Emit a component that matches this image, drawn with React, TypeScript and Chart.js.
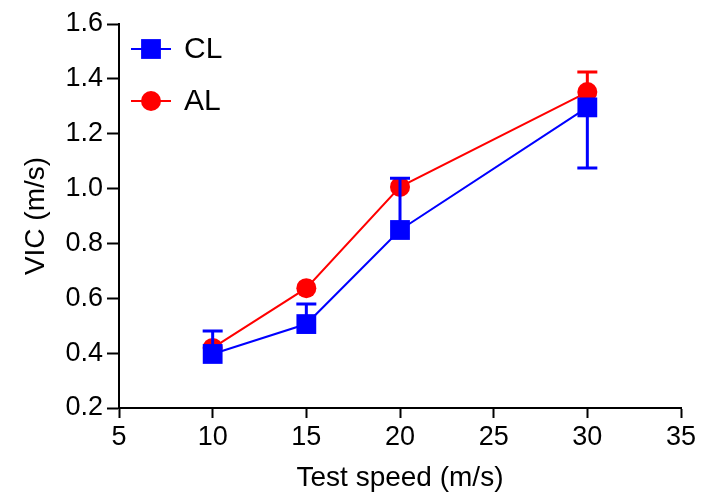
import React, { useEffect, useRef } from "react";
import { Chart, registerables } from "chart.js";

Chart.register(...registerables);

const speeds = [10, 15, 20, 30];
const clValues = [0.397, 0.506, 0.849, 1.296];
const clErrors = [0.084, 0.073, 0.189, -0.221];
const alValues = [0.419, 0.637, 1.006, 1.352];
const alErrors = [0, 0, 0, 0.073];
const seriesNames = ["CL", "AL"];
const xTitle = "Test speed (m/s)";
const yTitle = "VIC (m/s)";

const FONT = "'Liberation Sans', Arial, sans-serif";

const errorBarPlugin = {
  id: "errorBars",
  afterDatasetsDraw(chart: any) {
    const { ctx } = chart;
    const yScale = chart.scales.y;
    for (let i = chart.data.datasets.length - 1; i >= 0; i--) {
      const ds: any = chart.data.datasets[i];
      const errs: number[] = ds.errors || [];
      const meta = chart.getDatasetMeta(i);
      ctx.save();
      ctx.strokeStyle = ds.borderColor;
      ctx.lineWidth = 3;
      meta.data.forEach((pt: any, j: number) => {
        const e = errs[j];
        if (!e) return;
        const v = (ds.data[j] as any).y;
        const x = pt.x;
        const y0 = yScale.getPixelForValue(v);
        const y1 = yScale.getPixelForValue(v + e);
        ctx.beginPath();
        ctx.moveTo(x, y0);
        ctx.lineTo(x, y1);
        ctx.moveTo(x - 10, y1);
        ctx.lineTo(x + 10, y1);
        ctx.stroke();
      });
      ctx.restore();
    }
  },
};

const legendPlugin = {
  id: "customLegend",
  afterDraw(chart: any) {
    const { ctx, chartArea } = chart;
    const x0 = chartArea.left + 12;
    const x1 = chartArea.left + 52;
    const xm = (x0 + x1) / 2;
    const rows = [chartArea.top + 25, chartArea.top + 77];
    chart.data.datasets.forEach((ds: any, i: number) => {
      const y = rows[i];
      ctx.save();
      ctx.strokeStyle = ds.borderColor;
      ctx.lineWidth = 2;
      ctx.beginPath();
      ctx.moveTo(x0, y);
      ctx.lineTo(x1, y);
      ctx.stroke();
      ctx.fillStyle = ds.backgroundColor;
      if (ds.pointStyle === "rect") {
        const s = Math.SQRT1_2 * ds.pointRadius;
        ctx.fillRect(xm - s, y - s, 2 * s, 2 * s);
      } else {
        ctx.beginPath();
        ctx.arc(xm, y, ds.pointRadius, 0, Math.PI * 2);
        ctx.fill();
      }
      ctx.fillStyle = "#000";
      ctx.font = `30px ${FONT}`;
      ctx.textBaseline = "middle";
      ctx.textAlign = "left";
      ctx.fillText(ds.label, x1 + 13, y + 1);
      ctx.restore();
    });
  },
};

export default function App() {
  const ref = useRef<HTMLCanvasElement | null>(null);
  useEffect(() => {
    if (!ref.current) return;
    const chart = new Chart(ref.current, {
      type: "line",
      data: {
        datasets: [
          {
            label: seriesNames[0],
            data: speeds.map((s, i) => ({ x: s, y: clValues[i] })),
            borderColor: "#0000FF",
            backgroundColor: "#0000FF",
            borderWidth: 2,
            pointStyle: "rect",
            pointRadius: 14,
            pointBorderWidth: 0,
            pointHoverRadius: 14,
            tension: 0,
            errors: clErrors,
          } as any,
          {
            label: seriesNames[1],
            data: speeds.map((s, i) => ({ x: s, y: alValues[i] })),
            borderColor: "#FF0000",
            backgroundColor: "#FF0000",
            borderWidth: 2,
            pointStyle: "circle",
            pointRadius: 10,
            pointBorderWidth: 0,
            pointHoverRadius: 10,
            tension: 0,
            errors: alErrors,
          } as any,
        ],
      },
      options: {
        responsive: false,
        animation: false,
        events: [],
        layout: { padding: { left: 0, right: 32, top: 24, bottom: 0 } },
        plugins: {
          legend: { display: false },
          tooltip: { enabled: false },
        },
        scales: {
          x: {
            type: "linear",
            min: 5,
            max: 35,
            afterFit: (scale: any) => {
              scale.height = 88;
            },
            ticks: {
              stepSize: 5,
              color: "#000",
              padding: 3,
              font: { family: FONT, size: 27 },
            },
            grid: {
              display: true,
              drawOnChartArea: false,
              drawTicks: true,
              tickLength: 10,
              tickWidth: 2,
              tickColor: "#000",
              color: "#000",
            },
            border: { display: true, color: "#000", width: 2 },
            title: {
              display: true,
              text: xTitle,
              color: "#000",
              font: { family: FONT, size: 28 },
              padding: { top: 0, bottom: 1 },
            },
          },
          y: {
            type: "linear",
            min: 0.2,
            max: 1.6,
            afterFit: (scale: any) => {
              scale.width = 119;
            },
            ticks: {
              stepSize: 0.2,
              color: "#000",
              padding: 4,
              font: { family: FONT, size: 27 },
              callback: (v: any) => Number(v).toFixed(1),
            },
            grid: {
              display: true,
              drawOnChartArea: false,
              drawTicks: true,
              tickLength: 12,
              tickWidth: 2,
              tickColor: "#000",
              color: "#000",
            },
            border: { display: true, color: "#000", width: 2 },
            title: {
              display: true,
              text: yTitle,
              color: "#000",
              font: { family: FONT, size: 28 },
              padding: { top: 19, bottom: 0 },
            },
          },
        },
      },
      plugins: [errorBarPlugin, legendPlugin],
    });
    return () => chart.destroy();
  }, []);
  return (
    <div style={{ position: "absolute", left: 0, top: 0, width: 713, height: 496, background: "#fff" }}>
      <canvas ref={ref} width={713} height={496} style={{ display: "block" }} />
    </div>
  );
}
